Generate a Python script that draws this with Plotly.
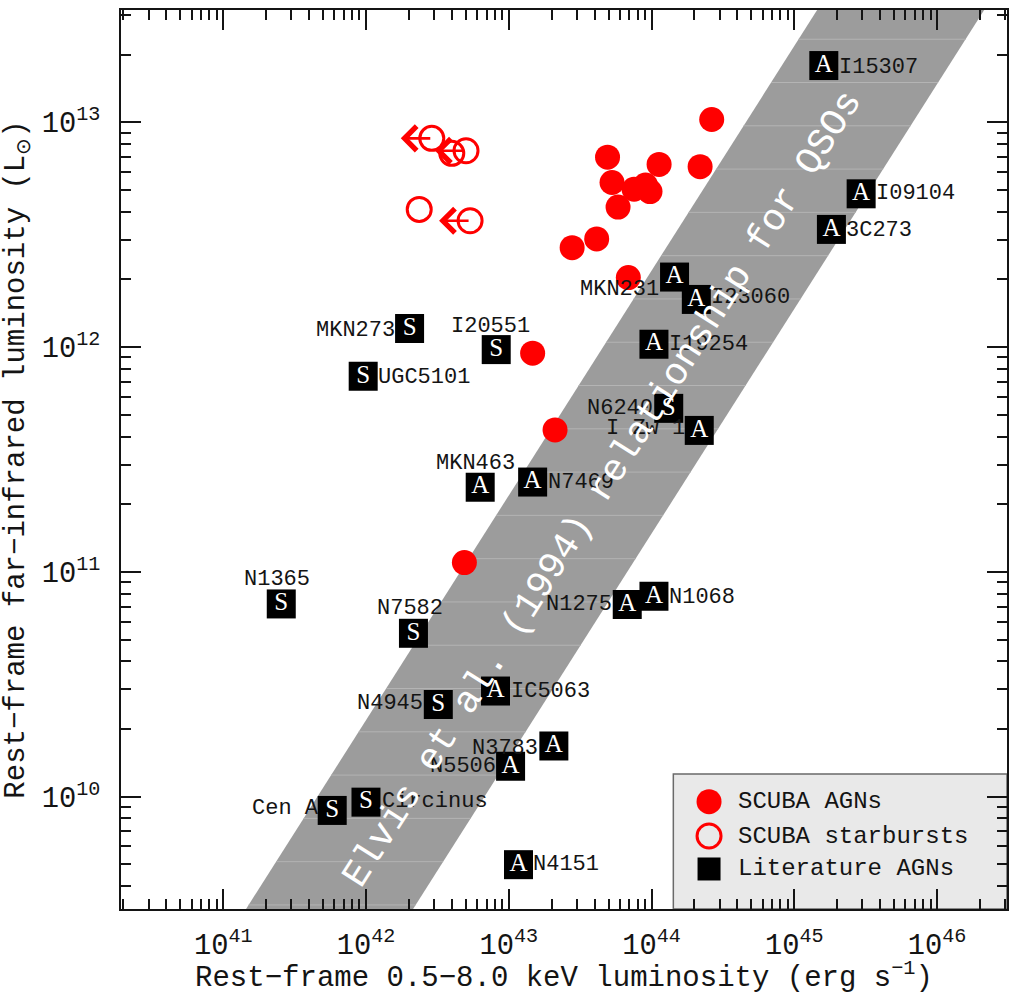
import math
import numpy as np
import plotly.graph_objects as go

# ---------------------------------------------------------------------------
# Data: rest-frame 0.5-8.0 keV luminosity (erg/s) vs far-IR luminosity (Lsun)
# ---------------------------------------------------------------------------

# SCUBA galaxies classified as AGN-dominated (filled red circles)
agn_lx = [2.64e44, 4.92e43, 1.13e44, 2.19e44, 5.29e43, 7.55e43, 9.08e43,
          9.76e43, 5.83e43, 4.13e43, 2.78e43, 6.88e43, 1.47e43, 2.11e43,
          4.89e42]
agn_lfir = [1.03e13, 7.00e12, 6.50e12, 6.35e12, 5.40e12, 5.04e12, 5.26e12,
            4.92e12, 4.20e12, 3.03e12, 2.77e12, 2.04e12, 9.40e11, 4.28e11,
            1.10e11]

# SCUBA galaxies classified as starbursts (open red circles)
sb_lx = [2.89e42, 3.99e42, 5.02e42, 2.36e42, 5.36e42]
sb_lfir = [8.49e12, 7.28e12, 7.48e12, 4.10e12, 3.65e12]
sb_xray_upper_limit = [True, False, True, False, True]

# Literature comparison sources (A = AGN-dominated, S = starburst-dominated)
lit_names = ["I15307", "I09104", "3C273", "MKN231", "I23060", "I19254",
             "N6240", "I Zw 1", "MKN273", "I20551", "UGC5101", "MKN463",
             "N7469", "N1365", "N7582", "IC5063", "N4945", "N3783", "N5506",
             "N1275", "N1068", "N4151", "Cen A", "Circinus"]
lit_class = ["A", "A", "A", "A", "A", "A",
             "S", "A", "S", "S", "S", "A",
             "A", "S", "S", "A", "S", "A", "A",
             "A", "A", "A", "S", "S"]
lit_lx = [1.61e45, 2.94e45, 1.82e45, 1.45e44, 2.06e44, 1.04e44,
          1.32e44, 2.16e44, 2.02e42, 8.17e42, 9.56e41, 6.31e42,
          1.47e43, 2.55e41, 2.15e42, 8.08e42, 3.21e42, 2.07e43, 1.03e43,
          6.76e43, 1.04e44, 1.17e43, 5.80e41, 1.00e42]
lit_lfir = [1.79e13, 4.81e12, 3.34e12, 2.05e12, 1.63e12, 1.03e12,
            5.34e11, 4.26e11, 1.21e12, 9.75e11, 7.42e11, 2.38e11,
            2.51e11, 7.20e10, 5.33e10, 2.95e10, 2.57e10, 1.68e10, 1.365e10,
            7.16e10, 7.79e10, 4.98e9, 8.68e9, 9.45e9]

# Elvis et al. (1994) QSO relation: range of log(L_FIR) - log(L_X)
elvis_log_ratio_lo = -32.83
elvis_log_ratio_hi = -31.66

# ---------------------------------------------------------------------------
# Layout geometry and styling
# ---------------------------------------------------------------------------
W, H = 1009, 995
M_L, M_R, M_T, M_B = 121, 2, 10, 86
PLOT_W = W - M_L - M_R
PLOT_H = H - M_T - M_B
X_RANGE = [40.284, 46.49]
Y_RANGE = [9.5, 13.5]

FONT = "Liberation Mono"
RED = "#ff0000"
INK = "#141414"
BAND_GREY = "#9c9c9c"

# label placement next to each literature square: side, extra dx, extra dy (px)
label_place = {
    "I15307": ("r", 0, 2), "I09104": ("r", 0, 0), "3C273": ("r", 0, 1),
    "MKN231": ("l", -1, 12), "I23060": ("r", 0, -2), "I19254": ("r", 0, 0),
    "N6240": ("l", -1, 0), "I Zw 1": ("l", 1, -2), "MKN273": ("l", 0, 2),
    "I20551": ("t", -6, 23), "UGC5101": ("r", 0, 1), "MKN463": ("t", -5, 24),
    "N7469": ("r", 0, 0), "N1365": ("t", -4, 24), "N7582": ("t", -3, 25),
    "IC5063": ("r", 0, 0), "N4945": ("l", 0, -1), "N3783": ("l", -1, 3),
    "N5506": ("l", 0, 0), "N1275": ("l", 0, 0), "N1068": ("r", 0, 1),
    "N4151": ("r", 0, 0), "Cen A": ("l", 2, -2), "Circinus": ("r", 1, -1),
}

fig = go.Figure()

# --- Elvis et al. band -----------------------------------------------------
band_lx_log = np.array([39.0, 48.0])
band_x = np.concatenate([band_lx_log, band_lx_log[::-1]])
band_y = np.concatenate([band_lx_log + elvis_log_ratio_lo,
                         band_lx_log[::-1] + elvis_log_ratio_hi])
fig.add_trace(go.Scatter(
    x=10 ** band_x, y=10 ** band_y, mode="lines", fill="toself",
    fillcolor=BAND_GREY, line=dict(width=0), hoverinfo="skip",
    showlegend=False))

# faint horizontal shading lines across the band
stripe_levels = np.arange(9.518, Y_RANGE[1], 0.1926)
sx, sy = [], []
for ly in stripe_levels:
    sx += [10 ** (ly - elvis_log_ratio_hi), 10 ** (ly - elvis_log_ratio_lo), None]
    sy += [10 ** ly, 10 ** ly, None]
fig.add_trace(go.Scatter(
    x=sx, y=sy, mode="lines", line=dict(color="#b4b4b4", width=1),
    hoverinfo="skip", showlegend=False))

# --- SCUBA AGNs ------------------------------------------------------------
fig.add_trace(go.Scatter(
    x=agn_lx, y=agn_lfir, mode="markers",
    marker=dict(symbol="circle", size=25, color=RED, line=dict(width=0)),
    showlegend=False))

# --- SCUBA starbursts ------------------------------------------------------
fig.add_trace(go.Scatter(
    x=sb_lx, y=sb_lfir, mode="markers",
    marker=dict(symbol="circle-open", size=24, color=RED,
                line=dict(width=3, color=RED)),
    showlegend=False))

# --- literature sources: black squares with class letter --------------------
fig.add_trace(go.Scatter(
    x=lit_lx, y=lit_lfir, mode="markers+text", text=lit_class,
    textposition="middle center",
    textfont=dict(family="Liberation Serif", size=25, color="white"),
    marker=dict(symbol="square", size=29, color="black", line=dict(width=0)),
    showlegend=False))

annotations = []

# X-ray upper-limit arrows on starbursts
for lx, lf, lim in zip(sb_lx, sb_lfir, sb_xray_upper_limit):
    if lim:
        annotations.append(dict(
            x=math.log10(lx), y=math.log10(lf), xref="x", yref="y",
            text="", showarrow=True, arrowhead=4, arrowsize=1.8,
            arrowwidth=2.6, arrowcolor=RED, ax=31, ay=0, xshift=-31))

# source name labels
for name, lx, lf in zip(lit_names, lit_lx, lit_lfir):
    side, dx, dy = label_place[name]
    if side == "r":
        xa, xs = "left", 13 + dx
    elif side == "l":
        xa, xs = "right", -13 + dx
    else:
        xa, xs = "center", dx
    annotations.append(dict(
        x=math.log10(lx), y=math.log10(lf), xref="x", yref="y",
        text=name, showarrow=False, xanchor=xa, yanchor="middle",
        xshift=xs, yshift=-dy if side != "t" else dy,
        font=dict(family=FONT, size=22, color=INK)))

# rotated label along the QSO band
px_per_dex_x = PLOT_W / (X_RANGE[1] - X_RANGE[0])
px_per_dex_y = PLOT_H / (Y_RANGE[1] - Y_RANGE[0])
band_angle = math.degrees(math.atan2(px_per_dex_y, px_per_dex_x))
annotations.append(dict(
    x=43.66, y=11.37, xref="x", yref="y",
    text="Elvis et al. (1994) relationship for QSOs", showarrow=False,
    textangle=-band_angle, font=dict(family=FONT, size=38, color="white")))

# --- legend box (drawn by hand so the glyphs keep their plotted size) -------
legend_x0 = 0.6234
legend_y1 = 0.1502
legend_items = [
    ("SCUBA AGNs", dict(symbol="circle", size=25, color=RED, line=dict(width=0))),
    ("SCUBA starbursts", dict(symbol="circle-open", size=24, color=RED,
                              line=dict(width=3, color=RED))),
    ("Literature AGNs", dict(symbol="square", size=23, color="black",
                             line=dict(width=0))),
]
legend_rows_y = [0.1194, 0.0812, 0.0445]
legend_glyph_x = 0.6637
legend_text_x = 0.6941

shapes = [dict(type="rect", xref="paper", yref="paper",
               x0=legend_x0, x1=1.0, y0=0.0, y1=legend_y1,
               fillcolor="#e9e9e9", line=dict(color="#6a6a6a", width=1.5),
               layer="below")]

for (label, mk), ry in zip(legend_items, legend_rows_y):
    fig.add_trace(go.Scatter(
        x=[legend_glyph_x], y=[ry], xaxis="x2", yaxis="y2", mode="markers",
        marker=mk, showlegend=False, hoverinfo="skip"))
    annotations.append(dict(
        x=legend_text_x, y=ry, xref="paper", yref="paper", text=label,
        showarrow=False, xanchor="left", yanchor="middle",
        font=dict(family=FONT, size=24, color=INK)))

axis_common = dict(
    type="log", showline=True, linecolor=INK, linewidth=2, mirror="ticks",
    ticks="inside", ticklen=20, tickwidth=2, tickcolor=INK,
    showgrid=False, zeroline=False, dtick=1, exponentformat="power",
    minor=dict(ticks="inside", ticklen=10, tickwidth=2, tickcolor=INK,
               dtick="D1", showgrid=False),
    tickfont=dict(family=FONT, size=23, color=INK), automargin=False,
)

fig.update_layout(
    width=W, height=H,
    margin=dict(l=M_L, r=M_R, t=M_T, b=M_B),
    paper_bgcolor="white", plot_bgcolor="white",
    showlegend=False,
    xaxis=dict(axis_common, range=X_RANGE, ticklabelstandoff=10,
               title=dict(text="Rest\u2212frame 0.5\u22128.0 keV luminosity (erg s<sup>\u22121</sup>)",
                          font=dict(family=FONT, size=29, color=INK), standoff=10)),
    yaxis=dict(axis_common, range=Y_RANGE, ticklabelstandoff=14,
               title=dict(text="Rest\u2212frame far\u2212infrared luminosity (L<sub>\u2299</sub>)",
                          font=dict(family=FONT, size=29, color=INK), standoff=12)),
    xaxis2=dict(overlaying="x", range=[0, 1], visible=False, anchor="y2"),
    yaxis2=dict(overlaying="y", range=[0, 1], visible=False, anchor="x2"),
    annotations=annotations,
    shapes=shapes,
)

fig.write_html("out.html")
